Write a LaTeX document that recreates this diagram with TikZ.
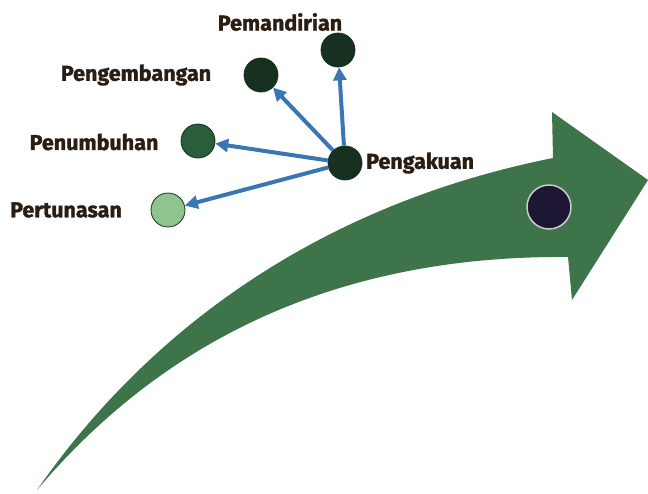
\documentclass[tikz,border=0pt]{standalone}
\usepackage{fontspec}
\setmainfont{Fira Sans}
\newfontfamily\stagefont{Fira Sans Bold}[FakeBold=1.5]
\usepackage{tikz}
\usetikzlibrary{arrows.meta}
\definecolor{arrowgreen}{HTML}{3D7449}
\definecolor{linkblue}{HTML}{3B76B4}
\definecolor{darkdot}{HTML}{17301F}
\definecolor{middot}{HTML}{2A5D3B}
\definecolor{lightdot}{HTML}{8EC58F}
\definecolor{navydot}{HTML}{1E1734}
\definecolor{labeltext}{HTML}{2A1E14}
\tikzset{
  dot/.style={circle, draw=darkdot, line width=0.8pt, minimum size=34pt, inner sep=0pt},
  stage/.style={font=\stagefont\fontsize{21.5}{24}\selectfont, text=labeltext, inner sep=0pt},
  link/.style={linkblue, line width=4pt, -{Triangle[length=13pt,width=13pt]}}
}
\begin{document}
\begin{tikzpicture}[x=1pt, y=-1pt]
    % Fix the frame to the size of the reference
    \useasboundingbox (0,0) rectangle (648,493);

    % Draw the big curved green arrow
    \fill[arrowgreen] (37,490) .. controls (151,326) and (323,204) .. (553,158)
        -- (552,112) -- (648,180) -- (572,300) -- (568,257)
        .. controls (318,255) and (151,355) .. (37,490) -- cycle;
    \node[circle, fill=navydot, draw=black!20, line width=1.5pt, minimum size=44pt, inner sep=0pt] (now) at (549,207) {};

    % The five stages
    \node[dot, fill=darkdot] (mandiri) at (338,50) {};
    \node[dot, fill=darkdot] (kembang) at (261,75) {};
    \node[dot, fill=middot] (tumbuh) at (198,141) {};
    \node[dot, fill=lightdot] (tunas) at (168,210) {};
    \node[dot, fill=darkdot] (akui) at (345,163) {};

    % Label the stages
    \node[stage] (mandiri-l) at (280,22) {Pemandirian};
    \node[stage] (kembang-l) at (136,75) {Pengembangan};
    \node[stage] (tumbuh-l) at (94,142) {Penumbuhan};
    \node[stage] (tunas-l) at (66,210) {Pertunasan};
    \node[stage, anchor=west] (akui-l) at (366,163) {Pengakuan};

    % Connect Pengakuan with the other stages
    \draw[link] (akui) -- (mandiri);
    \draw[link] (akui) -- (kembang);
    \draw[link] (akui) -- (tumbuh);
    \draw[link] (akui) -- (tunas);
\end{tikzpicture}
\end{document}
